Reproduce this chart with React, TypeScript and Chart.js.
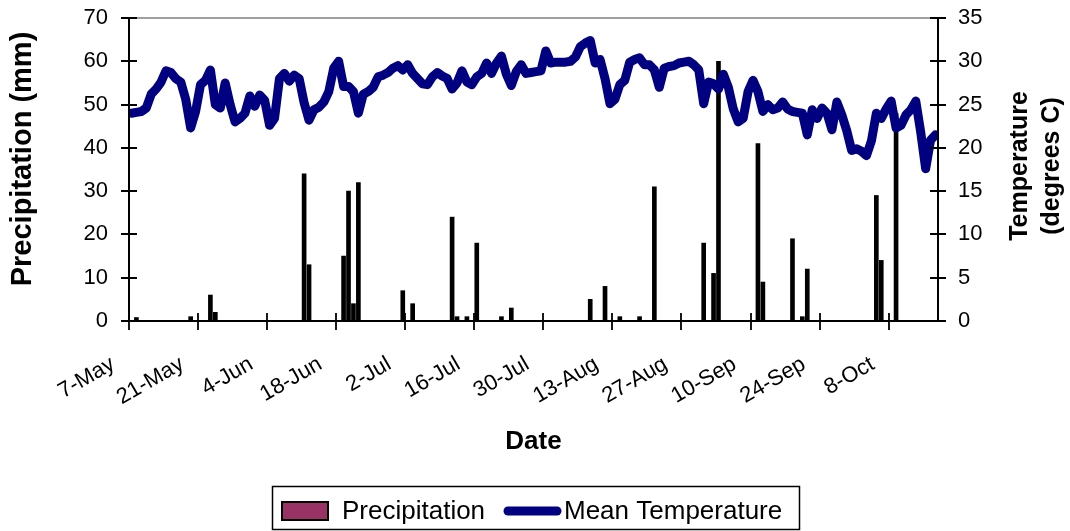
import React, { useEffect, useRef } from 'react';
import { Chart, registerables } from 'chart.js';

Chart.register(...registerables);

// ---- data ----
const startYear = 2001;
const startMonthIndex = 4; // May
const startDayOfMonth = 7;
const dayCount = 164; // 7-May .. 17-Oct
const tickStep = 14;
const tickLabels = ['7-May', '21-May', '4-Jun', '18-Jun', '2-Jul', '16-Jul', '30-Jul', '13-Aug', '27-Aug', '10-Sep', '24-Sep', '8-Oct'];

// days after 7-May with rain, and amount (mm)
const rainDays = [1, 12, 16, 17, 35, 36, 43, 44, 45, 46, 55, 57, 65, 66, 68, 70, 75, 77, 93, 96, 99, 103, 106, 116, 118, 119, 127, 128, 134, 136, 137, 151, 152, 155];
const rainMm = [0.8, 1, 6, 2, 34, 13, 15, 30, 4, 32, 7, 4, 24, 1, 1, 18, 1, 3, 5, 8, 1, 1, 31, 18, 11, 60, 41, 9, 19, 1, 12, 29, 14, 48];

// daily mean temperature (degrees C), 7-May .. 17-Oct
const temperatureC = [
  24.0, 24.1, 24.2, 24.6, 26.2, 26.8, 27.6, 28.9, 28.7, 28.0,
  27.6, 25.6, 22.3, 24.2, 27.3, 27.8, 29.0, 25.0, 24.6, 27.5,
  25.0, 23.0, 23.4, 24.0, 26.0, 24.8, 26.1, 25.5, 22.6, 23.4,
  28.0, 28.6, 27.7, 28.4, 28.0, 25.2, 23.2, 24.4, 24.7, 25.3,
  26.5, 29.2, 30.0, 27.1, 27.1, 26.5, 24.0, 26.2, 26.5, 27.0,
  28.2, 28.4, 28.7, 29.2, 29.5, 29.0, 29.6, 28.6, 28.0, 27.4,
  27.3, 28.2, 28.7, 28.3, 28.0, 26.8, 27.5, 28.9, 27.6, 27.3,
  28.2, 28.6, 29.8, 28.6, 29.8, 30.6, 28.5, 27.2, 28.8, 29.6,
  28.6, 28.7, 28.8, 28.9, 31.2, 29.8, 29.9, 29.9, 29.9, 30.0,
  30.5, 31.7, 32.1, 32.4, 29.8, 30.2, 28.0, 25.1, 25.6, 27.3,
  27.8, 29.9, 30.2, 30.4, 29.6, 29.6, 29.0, 27.0, 29.2, 29.4,
  29.5, 29.8, 29.9, 30.0, 29.6, 29.0, 25.1, 27.6, 27.4, 26.8,
  28.5, 27.0, 24.5, 23.0, 23.4, 26.5, 27.8, 26.5, 24.2, 25.0,
  24.4, 24.6, 25.3, 24.5, 24.2, 24.1, 24.0, 21.5, 24.4, 23.4,
  24.6, 24.0, 22.1, 25.3, 23.8, 22.0, 19.7, 19.9, 19.6, 19.1,
  20.8, 24.0, 23.4, 24.5, 25.4, 22.3, 22.6, 23.8, 24.4, 25.4,
  21.8, 17.6, 20.9, 21.5,
];

const precipMax = 70;
const precipStep = 10;
const tempMax = 35;
const tempStep = 5;

const seriesNames = ['Precipitation', 'Mean Temperature'];
const axisTitles = { left: 'Precipitation (mm)', right: ['Temperature', '(degrees C)'], bottom: 'Date' };

// ---- layout / style ----
const W = 1070;
const H = 531;
const AREA = { left: 129, right: 938, top: 18, bottom: 321 };
const FONT = '"Liberation Sans", Arial, sans-serif';
const NAVY = '#000080';
const MAROON = '#993366';

const dayLabel = (i: number) => {
  const d = new Date(startYear, startMonthIndex, startDayOfMonth + i);
  const m = ['Jan', 'Feb', 'Mar', 'Apr', 'May', 'Jun', 'Jul', 'Aug', 'Sep', 'Oct', 'Nov', 'Dec'][d.getMonth()];
  return `${d.getDate()}-${m}`;
};

const decorPlugin = {
  id: 'decor',
  afterDatasetsDraw(chart: any) {
    const { ctx, chartArea: a, scales } = chart;
    ctx.save();
    ctx.strokeStyle = '#808080';
    ctx.lineWidth = 1.5;
    ctx.beginPath();
    ctx.moveTo(a.left, a.top);
    ctx.lineTo(a.right, a.top);
    ctx.stroke();
    ctx.strokeStyle = '#000';
    ctx.lineWidth = 2;
    ctx.beginPath();
    ctx.moveTo(a.left, a.top);
    ctx.lineTo(a.left, a.bottom);
    ctx.lineTo(a.right, a.bottom);
    ctx.lineTo(a.right, a.top);
    ctx.stroke();
    ctx.lineWidth = 1.8;
    ctx.beginPath();
    for (let v = 0; v <= precipMax; v += precipStep) {
      const y = Math.round(scales.y.getPixelForValue(v));
      ctx.moveTo(a.left - 8, y);
      ctx.lineTo(a.left + 8, y);
    }
    for (let v = 0; v <= tempMax; v += tempStep) {
      const y = Math.round(scales.y1.getPixelForValue(v));
      ctx.moveTo(a.right - 8, y);
      ctx.lineTo(a.right + 8, y);
    }
    tickLabels.forEach((_, k) => {
      const x = Math.round(scales.x.getPixelForValue(k * tickStep));
      ctx.moveTo(x, a.bottom - 8);
      ctx.lineTo(x, a.bottom + 9);
    });
    ctx.stroke();
    ctx.restore();
  },
  afterDraw(chart: any) {
    const { ctx, chartArea: a } = chart;
    ctx.save();
    ctx.fillStyle = '#000';
    ctx.textAlign = 'center';
    ctx.textBaseline = 'middle';
    ctx.font = `bold 29px ${FONT}`;
    ctx.save();
    ctx.translate(23, 159);
    ctx.rotate(-Math.PI / 2);
    ctx.fillText(axisTitles.left, 0, 0);
    ctx.restore();
    ctx.font = `bold 25px ${FONT}`;
    ctx.save();
    ctx.translate(1020, 166);
    ctx.rotate(-Math.PI / 2);
    ctx.fillText(axisTitles.right[0], 0, 0);
    ctx.fillText(axisTitles.right[1], 0, 32);
    ctx.restore();
    ctx.font = `bold 26px ${FONT}`;
    ctx.fillText(axisTitles.bottom, (a.left + a.right) / 2, 442);
    const lx = 272.5, ly = 486.5, lw = 527, lh = 43;
    ctx.strokeStyle = '#000';
    ctx.lineWidth = 1.5;
    ctx.strokeRect(lx, ly, lw, lh);
    ctx.fillStyle = MAROON;
    ctx.fillRect(282, 502, 46, 18);
    ctx.lineWidth = 2;
    ctx.strokeRect(282, 502, 46, 18);
    ctx.fillStyle = '#000';
    ctx.textAlign = 'left';
    ctx.font = `26px ${FONT}`;
    ctx.fillText(seriesNames[0], 342, 512);
    ctx.strokeStyle = NAVY;
    ctx.lineWidth = 9;
    ctx.lineCap = 'round';
    ctx.beginPath();
    ctx.moveTo(508, 511);
    ctx.lineTo(557, 511);
    ctx.stroke();
    ctx.fillText(seriesNames[1], 564, 512);
    ctx.restore();
  },
};

export default function App() {
  const ref = useRef<HTMLCanvasElement | null>(null);

  useEffect(() => {
    if (!ref.current) return;
    Chart.defaults.font.family = FONT;
    const chart = new Chart(ref.current, {
      type: 'bar',
      data: {
        datasets: [
          {
            type: 'line',
            label: seriesNames[1],
            data: temperatureC.map((t, i) => ({ x: i + 0.5, y: t })),
            yAxisID: 'y1',
            borderColor: NAVY,
            borderWidth: 9,
            pointRadius: 0,
            tension: 0,
            borderJoinStyle: 'round',
            borderCapStyle: 'round',
            order: 0,
          } as any,
          {
            type: 'bar',
            label: seriesNames[0],
            data: rainDays.map((d, k) => ({ x: d + 0.5, y: rainMm[k] })),
            yAxisID: 'y',
            backgroundColor: '#000',
            borderColor: '#000',
            borderWidth: 0,
            barThickness: 4,
            grouped: false,
            order: 1,
          } as any,
        ],
      },
      options: {
        responsive: false,
        animation: false,
        devicePixelRatio: 1,
        layout: { padding: { top: AREA.top, left: 0, right: 0, bottom: 0 } },
        plugins: { legend: { display: false }, tooltip: { enabled: false }, title: { display: false } },
        scales: {
          x: {
            type: 'linear',
            min: 0,
            max: dayCount,
            offset: false,
            grid: { display: false, drawTicks: false },
            border: { display: false },
            afterBuildTicks: (s: any) => {
              s.ticks = tickLabels.map((_, k) => ({ value: k * tickStep }));
            },
            afterFit: (s: any) => {
              s.height = H - AREA.bottom;
              s.paddingLeft = 0;
              s.paddingRight = 0;
            },
            ticks: {
              autoSkip: false,
              minRotation: 30,
              maxRotation: 30,
              padding: 21,
              color: '#000',
              font: { size: 22 },
              callback: (v: any) => {
                const k = Math.round(Number(v) / tickStep);
                return (tickLabels[k] ?? dayLabel(Number(v))) + '\u00a0\u00a0\u00a0';
              },
            },
          },
          y: {
            position: 'left',
            min: 0,
            max: precipMax,
            grid: { display: false, drawTicks: false },
            border: { display: false },
            afterFit: (s: any) => {
              s.width = AREA.left;
              s.paddingTop = 0;
              s.paddingBottom = 0;
            },
            ticks: { stepSize: precipStep, padding: 21, color: '#000', font: { size: 22 } },
          },
          y1: {
            position: 'right',
            min: 0,
            max: tempMax,
            grid: { display: false, drawTicks: false },
            border: { display: false },
            afterFit: (s: any) => {
              s.width = W - AREA.right;
              s.paddingTop = 0;
              s.paddingBottom = 0;
            },
            ticks: { stepSize: tempStep, padding: 20, color: '#000', font: { size: 22 } },
          },
        },
      } as any,
      plugins: [decorPlugin],
    });
    return () => chart.destroy();
  }, []);

  return (
    <div style={{ position: 'absolute', left: 0, top: 0, width: W, height: H, background: '#fff' }}>
      <canvas ref={ref} width={W} height={H} style={{ display: 'block', width: W, height: H }} />
    </div>
  );
}
